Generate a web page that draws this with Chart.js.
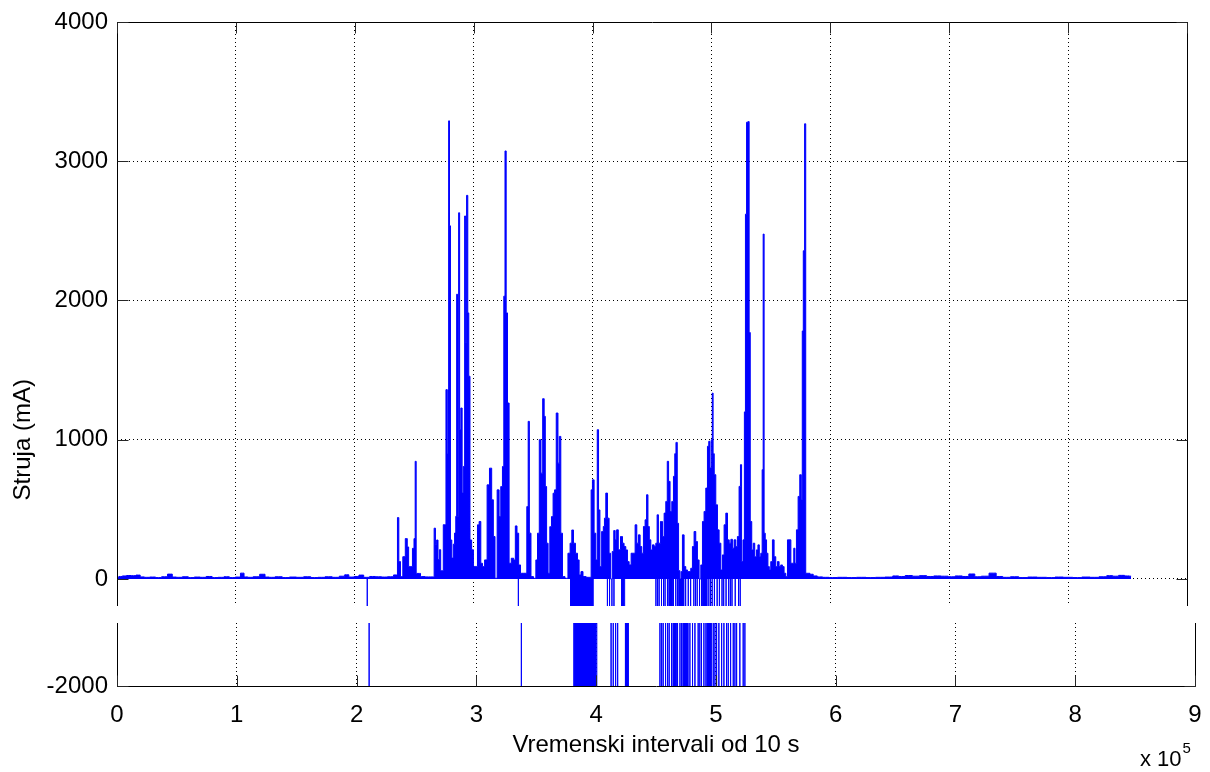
<!DOCTYPE html>
<html lang="hr">
<head>
<meta charset="utf-8">
<title>Struja</title>
<script src="https://cdn.jsdelivr.net/npm/chart.js@4.4.1/dist/chart.umd.min.js"></script>
<style>
    html, body { margin: 0; padding: 0; background: #fff; }
    body { width: 1210px; height: 772px; position: relative; overflow: hidden; }
    #gornji { position: absolute; left: 0; top: 0; }
    #donji { position: absolute; left: 0; top: 610px; }
</style>
</head>
<body>
<canvas id="gornji" width="1210" height="606"></canvas>
<canvas id="donji" width="1210" height="162"></canvas>
<script>
// vremenski intervali (x 10^5) i struja (mA)
const intervali = [
    0, 0.03, 0.06, 0.1, 0.14, 0.18, 0.21, 0.25, 0.3, 0.35,
    0.4, 0.45, 0.48, 0.52, 0.58, 0.62, 0.68, 0.72, 0.78, 0.82,
    0.88, 0.92, 0.97, 1.02, 1.057, 1.08, 1.12, 1.17, 1.23, 1.26,
    1.3, 1.36, 1.42, 1.48, 1.54, 1.6, 1.66, 1.72, 1.78, 1.84,
    1.9, 1.93, 1.97, 2.02, 2.05, 2.1, 2.15, 2.2, 2.25, 2.3,
    2.352, 2.366, 2.375, 2.394, 2.414, 2.436, 2.447, 2.459, 2.478, 2.492,
    2.504, 2.512, 2.521, 2.543, 2.563, 2.619, 2.661, 2.674, 2.683, 2.694,
    2.706, 2.717, 2.728, 2.739, 2.750, 2.761, 2.773, 2.781, 2.787, 2.792,
    2.801, 2.809, 2.823, 2.834, 2.845, 2.854, 2.860, 2.868, 2.879, 2.885,
    2.899, 2.907, 2.918, 2.930, 2.935, 2.946, 2.955, 2.963, 2.975, 2.991,
    3.005, 3.025, 3.039, 3.053, 3.067, 3.081, 3.103, 3.123, 3.143, 3.160,
    3.171, 3.188, 3.207, 3.221, 3.235, 3.249, 3.258, 3.269, 3.278, 3.291,
    3.305, 3.328, 3.345, 3.356, 3.373, 3.384, 3.404, 3.440, 3.454, 3.463,
    3.474, 3.490, 3.516, 3.530, 3.544, 3.560, 3.572, 3.589, 3.597, 3.608,
    3.619, 3.633, 3.648, 3.661, 3.675, 3.686, 3.703, 3.715, 3.726, 3.740,
    3.754, 3.782, 3.804, 3.818, 3.833, 3.846, 3.866, 3.880, 3.894, 3.911,
    3.928, 3.964, 3.984, 3.992, 4.006, 4.020, 4.034, 4.045, 4.056, 4.068,
    4.085, 4.096, 4.104, 4.119, 4.132, 4.146, 4.157, 4.174, 4.183, 4.197,
    4.208, 4.225, 4.245, 4.258, 4.272, 4.287, 4.300, 4.315, 4.334, 4.351,
    4.365, 4.379, 4.393, 4.407, 4.421, 4.435, 4.449, 4.460, 4.472, 4.483,
    4.497, 4.511, 4.525, 4.539, 4.547, 4.561, 4.581, 4.595, 4.609, 4.623,
    4.634, 4.645, 4.659, 4.674, 4.687, 4.696, 4.707, 4.718, 4.729, 4.741,
    4.749, 4.763, 4.777, 4.791, 4.805, 4.819, 4.833, 4.847, 4.861, 4.875,
    4.889, 4.903, 4.918, 4.931, 4.945, 4.960, 4.973, 4.982, 4.993, 5.004,
    5.010, 5.018, 5.029, 5.044, 5.057, 5.072, 5.086, 5.099, 5.114, 5.128,
    5.142, 5.157, 5.170, 5.183, 5.198, 5.212, 5.225, 5.240, 5.248, 5.259,
    5.272, 5.282, 5.290, 5.301, 5.313, 5.321, 5.332, 5.346, 5.357, 5.371,
    5.385, 5.397, 5.408, 5.422, 5.431, 5.439, 5.447, 5.458, 5.469, 5.481,
    5.492, 5.506, 5.520, 5.534, 5.548, 5.562, 5.576, 5.590, 5.604, 5.618,
    5.633, 5.646, 5.661, 5.675, 5.688, 5.697, 5.708, 5.722, 5.736, 5.750,
    5.761, 5.767, 5.778, 5.789, 5.797, 5.814, 5.842, 5.87, 5.91, 5.96,
    6.02, 6.1, 6.18, 6.26, 6.34, 6.42, 6.5, 6.55, 6.6, 6.66,
    6.72, 6.78, 6.84, 6.9, 6.96, 7.02, 7.08, 7.14, 7.19, 7.24,
    7.3, 7.37, 7.42, 7.48, 7.55, 7.62, 7.7, 7.78, 7.86, 7.92,
    8.0, 8.08, 8.15, 8.22, 8.3, 8.35, 8.4, 8.45, 8.5, 8.53
];

const struja = [
    10, 18, 22, 25, 24, 28, 15, 12, 14, 10,
    16, 35, 14, 12, 16, 10, 14, 12, 18, 10,
    12, 16, 10, 14, 42, 15, 12, 16, 34, 14,
    12, 16, 10, 14, 12, 16, 10, 12, 16, 12,
    20, 30, 14, 18, 28, 12, 18, 16, 14, 16,
    29, 441, 125, 17, 160, 290, 230, 90, 90, 220,
    290, 845, 40, 40, 17, 15, 15, 365, 250, 280,
    140, 210, 60, 60, 390, 390, 1360, 900, 1360, 3290,
    2536, 280, 150, 250, 330, 450, 2045, 450, 2630, 1072,
    1228, 617, 808, 2607, 1696, 2755, 1911, 1456, 280, 210,
    90, 90, 389, 413, 113, 90, 137, 676, 796, 569,
    305, 5, 640, 448, 664, 808, 2031, 3074, 1911, 1264,
    113, 149, 137, 381, 329, 101, 41, 41, 520, 1132,
    329, 17, 5, 137, 329, 1000, 760, 1295, 1168, 664,
    257, 41, 376, 448, 616, 640, 1192, 832, 1024, 329,
    17, 5, 185, 257, 352, 257, 185, 137, 29, 53,
    17, 12, 12, 640, 712, 329, 137, 1072, 496, 89,
    341, 377, 437, 617, 437, 185, 0, 197, 348, 281,
    353, 210, 305, 257, 233, 209, 125, 101, 185, 185,
    389, 257, 317, 233, 185, 377, 425, 605, 377, 281,
    209, 245, 233, 257, 461, 257, 413, 305, 473, 557,
    845, 701, 485, 557, 737, 900, 981, 400, 60, 0,
    53, 317, 89, 65, 53, 53, 77, 233, 341, 269,
    137, 0, 101, 413, 485, 653, 953, 989, 797, 1000,
    1335, 900, 749, 533, 353, 257, 65, 173, 389, 473,
    281, 257, 285, 221, 281, 233, 305, 665, 821, 125,
    281, 1200, 2620, 3280, 3285, 1770, 413, 209, 257, 160,
    209, 245, 160, 185, 785, 2477, 329, 281, 185, 89,
    65, 125, 281, 160, 89, 125, 89, 101, 89, 41,
    17, 281, 281, 113, 113, 221, 113, 353, 593, 749,
    569, 1781, 2357, 3269, 41, 41, 34, 22, 15, 12,
    10, 12, 10, 12, 10, 12, 14, 22, 18, 25,
    20, 24, 18, 22, 20, 16, 22, 18, 36, 16,
    20, 42, 18, 12, 16, 10, 14, 12, 10, 14,
    12, 10, 14, 12, 16, 24, 20, 26, 22, 20
];

// kratki negativni impulsi (x 10^5) i gusti blokovi impulsa [od, do]
const impulsi = [
    2.105, 3.376, 4.125, 4.143, 4.163, 4.18,
    4.533, 4.547, 4.560, 4.580, 4.597, 4.610, 4.630, 4.680, 4.700, 4.714,
    4.783, 4.805, 4.825, 4.852, 4.866, 4.880, 4.900, 4.917,
    4.978, 4.992, 5.006, 5.025, 5.048, 5.067, 5.089, 5.103, 5.123,
    5.145, 5.159, 5.173, 5.200, 5.228, 5.242
];
const blokoviImpulsa = [
    [3.816, 4.006], [4.245, 4.27], [4.644, 4.672], [4.727, 4.769], [4.928, 4.964]
];
const dnoImpulsa = -2000;

const oznakeX = [0, 1, 2, 3, 4, 5, 6, 7, 8, 9];
const oznakeGornjeY = [0, 1000, 2000, 3000, 4000];
const oznakeDonjeY = [-2000];

const plava = '#0000ff';
Chart.defaults.font.family = '"Liberation Sans", Arial, Helvetica, sans-serif';
Chart.defaults.font.size = 24;
Chart.defaults.color = '#000';

function tockeStruje() {
    return intervali.map((x, i) => ({ x: x, y: struja[i] }));
}

function tockeImpulsa() {
    const dogadjaji = impulsi.map(x => [x, x]).concat(blokoviImpulsa)
        .sort((a, b) => a[0] - b[0]);
    const tocke = [];
    dogadjaji.forEach(([pocetak, kraj]) => {
        tocke.push(
            { x: pocetak, y: 0 },
            { x: pocetak, y: dnoImpulsa },
            { x: kraj, y: dnoImpulsa },
            { x: kraj, y: 0 },
            { x: kraj, y: null }
        );
    });
    return tocke;
}

function skupPodataka(tocke, stepenasto) {
    return {
        data: tocke,
        borderColor: plava,
        backgroundColor: plava,
        borderWidth: 1,
        fill: 'origin',
        pointRadius: 0,
        tension: 0,
        stepped: stepenasto ? 'middle' : false
    };
}

function osX(saOznakama) {
    return {
        type: 'linear',
        min: oznakeX[0],
        max: oznakeX[oznakeX.length - 1],
        afterBuildTicks(s) { s.ticks = oznakeX.map(v => ({ value: v })); },
        ticks: { display: saOznakama, padding: 15, callback: v => String(v) },
        grid: { color: '#000', lineWidth: 1, drawTicks: false },
        border: { display: false, dash: [1, 3] },
        title: {
            display: saOznakama,
            text: 'Vremenski intervali od 10 s',
            font: { size: 24 },
            padding: { top: 0, bottom: 12 }
        },
        afterFit(s) {
            s.height = saOznakama ? 86 : 0;
            s.paddingLeft = 0;
            s.paddingRight = 0;
        }
    };
}

function osY(min, max, oznake) {
    return {
        min: min,
        max: max,
        afterBuildTicks(s) { s.ticks = oznake.map(v => ({ value: v })); },
        ticks: { padding: 9, callback: v => String(v) },
        grid: { color: '#000', lineWidth: 1, drawTicks: false },
        border: { display: false, dash: [1, 3] },
        afterFit(s) {
            s.width = 117;
            s.paddingTop = 0;
            s.paddingBottom = 0;
        }
    };
}

// okvir osi i kratke crtice prema unutra, kao u MATLAB-u
const okvir = {
    id: 'okvir',
    afterDatasetsDraw(chart, args, opts) {
        const { ctx, chartArea: a, scales } = chart;
        const L = Math.round(a.left) + 0.5;
        const R = Math.round(a.right) + 0.5;
        const T = Math.round(a.top) + 0.5;
        const B = Math.round(a.bottom) + 0.5;
        const d = 11;
        ctx.save();
        ctx.strokeStyle = '#000';
        ctx.lineWidth = 1;
        ctx.beginPath();
        if (opts.gore) {
            ctx.moveTo(L, a.bottom); ctx.lineTo(L, T); ctx.lineTo(R, T); ctx.lineTo(R, a.bottom);
        } else {
            ctx.moveTo(L, a.top); ctx.lineTo(L, B); ctx.lineTo(R, B); ctx.lineTo(R, a.top);
        }
        ctx.stroke();

        ctx.strokeStyle = '#262626';
        ctx.beginPath();
        scales.x.ticks.forEach(t => {
            const px = Math.round(scales.x.getPixelForValue(t.value)) + 0.5;
            if (opts.gore) { ctx.moveTo(px, T); ctx.lineTo(px, T + d); }
            else { ctx.moveTo(px, B); ctx.lineTo(px, B - d); }
        });
        scales.y.ticks.forEach(t => {
            const py = Math.round(scales.y.getPixelForValue(t.value)) + 0.5;
            ctx.moveTo(L, py); ctx.lineTo(L + d, py);
            ctx.moveTo(R, py); ctx.lineTo(R - d, py);
        });
        ctx.stroke();
        ctx.restore();
    },
    afterDraw(chart, args, opts) {
        const { ctx, scales } = chart;
        const obitelj = Chart.defaults.font.family;
        ctx.save();
        ctx.fillStyle = '#000';
        if (opts.gore) {
            // naslov y osi centriran na cijelom rasponu -2000..4000
            const sredina = (scales.y.getPixelForValue(4000) + scales.y.getPixelForValue(-2000)) / 2;
            ctx.translate(23, sredina);
            ctx.rotate(-Math.PI / 2);
            ctx.font = '24px ' + obitelj;
            ctx.textAlign = 'center';
            ctx.textBaseline = 'middle';
            ctx.fillText('Struja (mA)', 0, 0);
        } else {
            ctx.font = '22px ' + obitelj;
            ctx.textAlign = 'left';
            ctx.textBaseline = 'alphabetic';
            ctx.fillText('x 10', 1140, 156);
            const w = ctx.measureText('x 10').width;
            ctx.font = '15px ' + obitelj;
            ctx.fillText('5', 1140 + w + 1, 143);
        }
        ctx.restore();
    }
};

new Chart(document.getElementById('gornji'), {
    type: 'line',
    data: { datasets: [skupPodataka(tockeStruje(), true), skupPodataka(tockeImpulsa(), false)] },
    options: {
        responsive: false,
        animation: false,
        events: [],
        layout: { padding: { top: 22, right: 23, left: 0, bottom: 0 } },
        plugins: { legend: { display: false }, tooltip: { enabled: false }, okvir: { gore: true } },
        scales: { x: osX(false), y: osY(-194, 4000, oznakeGornjeY) }
    },
    plugins: [okvir]
});

new Chart(document.getElementById('donji'), {
    type: 'line',
    data: { datasets: [skupPodataka(tockeImpulsa(), false)] },
    options: {
        responsive: false,
        animation: false,
        events: [],
        layout: { padding: { top: 13, right: 15, left: 0, bottom: 0 } },
        plugins: { legend: { display: false }, tooltip: { enabled: false }, okvir: { gore: false } },
        scales: { x: osX(true), y: osY(-2000, -1547, oznakeDonjeY) }
    },
    plugins: [okvir]
});
</script>
</body>
</html>
